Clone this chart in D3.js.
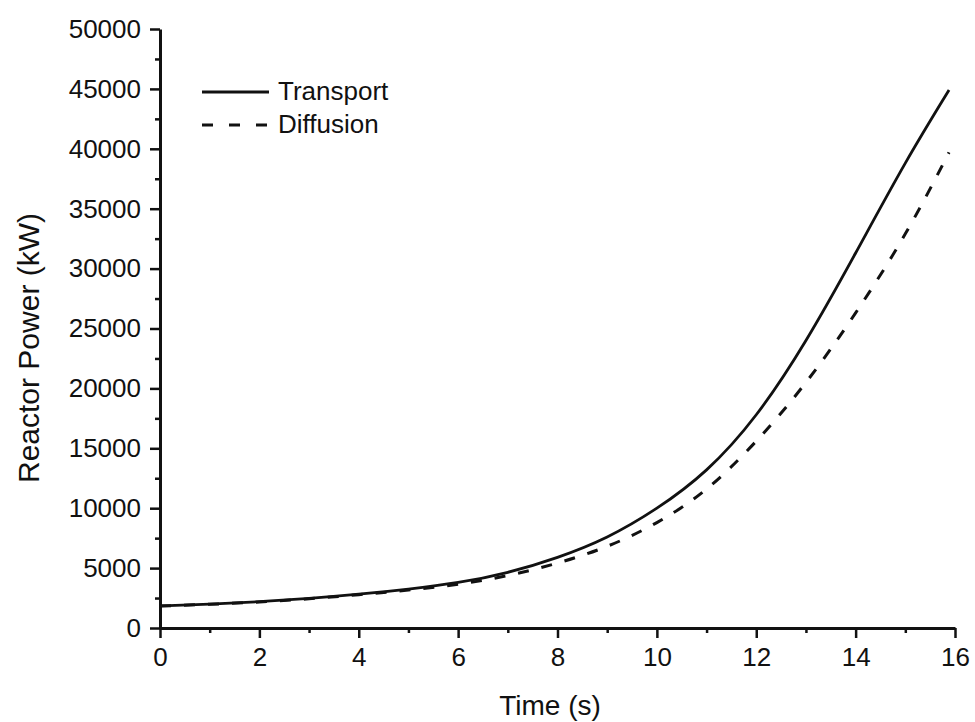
<!DOCTYPE html>
<html>
<head>
<meta charset="utf-8">
<script src="https://cdn.jsdelivr.net/npm/d3@7"></script>
<style>
  body { margin: 0; background: #fff; }
  text { font-family: "Liberation Sans", Arial, sans-serif; fill: #111; }
</style>
</head>
<body>
<div id="chart"></div>
<script>
// values
var times = [0, 1, 2, 3, 4, 5, 6, 7, 8, 9, 10, 11, 12, 13, 14, 15, 15.88];
var transport = [1850, 2000, 2200, 2470, 2820, 3250, 3800, 4650, 5900, 7600, 10000, 13200, 17800, 24000, 31300, 38800, 44900];
var diffusion = [1830, 1980, 2170, 2440, 2780, 3170, 3650, 4380, 5420, 6820, 8800, 11600, 15600, 20500, 26300, 32900, 39700];
var seriesNames = ["Transport", "Diffusion"];
var xTicks = [0, 2, 4, 6, 8, 10, 12, 14, 16];
var yTicks = [0, 5000, 10000, 15000, 20000, 25000, 30000, 35000, 40000, 45000, 50000];

var W = 975, H = 722;

var svg = d3.select("#chart").append("svg")
  .attr("width", W)
  .attr("height", H);

var x = d3.scaleLinear().domain([0, 16]).range([160, 955]);
var y = d3.scaleLinear().domain([0, 50000]).range([628, 29]);

// minor ticks first (short, outward)
var xMinor = d3.range(1, 16, 2);
var yMinor = d3.range(2500, 50000, 5000);

svg.append("g")
  .attr("transform", "translate(0,628)")
  .call(d3.axisBottom(x).tickValues(xMinor).tickSize(5).tickFormat(""))
  .call(function (g) { g.select(".domain").remove(); })
  .selectAll("line").attr("stroke", "#111").attr("stroke-width", 2.5);

svg.append("g")
  .attr("transform", "translate(160,0)")
  .call(d3.axisLeft(y).tickValues(yMinor).tickSize(5).tickFormat(""))
  .call(function (g) { g.select(".domain").remove(); })
  .selectAll("line").attr("stroke", "#111").attr("stroke-width", 2.5);

// major axes
var xAxis = svg.append("g")
  .attr("transform", "translate(0,628)")
  .call(d3.axisBottom(x).tickValues(xTicks).tickSize(10).tickSizeOuter(0).tickPadding(10));

var yAxis = svg.append("g")
  .attr("transform", "translate(160,0)")
  .call(d3.axisLeft(y).tickValues(yTicks).tickSize(10).tickSizeOuter(0).tickPadding(9).tickFormat(d3.format("d")));

[xAxis, yAxis].forEach(function (g) {
  g.select(".domain").attr("stroke", "#111").attr("stroke-width", 3);
  g.selectAll(".tick line").attr("stroke", "#111").attr("stroke-width", 2.5);
  g.selectAll(".tick text")
    .attr("fill", "#111")
    .style("font-size", "26px")
    .style("font-family", "'Liberation Sans', Arial, sans-serif");
});

// curves
var line = d3.line()
  .x(function (d) { return x(d[0]); })
  .y(function (d) { return y(d[1]); })
  .curve(d3.curveNatural);

var dataT = times.map(function (t, i) { return [t, transport[i]]; });
var dataD = times.map(function (t, i) { return [t, diffusion[i]]; });

svg.append("path")
  .datum(dataD)
  .attr("d", line)
  .attr("fill", "none")
  .attr("stroke", "#111")
  .attr("stroke-width", 3)
  .attr("stroke-dasharray", "11,13");

svg.append("path")
  .datum(dataT)
  .attr("d", line)
  .attr("fill", "none")
  .attr("stroke", "#111")
  .attr("stroke-width", 2.8);

// legend
var legend = svg.append("g");
legend.append("line")
  .attr("x1", 202).attr("x2", 269).attr("y1", 92).attr("y2", 92)
  .attr("stroke", "#111").attr("stroke-width", 2.8);
legend.append("line")
  .attr("x1", 202).attr("x2", 269).attr("y1", 125).attr("y2", 125)
  .attr("stroke", "#111").attr("stroke-width", 3)
  .attr("stroke-dasharray", "11,16");
legend.append("text")
  .attr("x", 278).attr("y", 100)
  .style("font-size", "26px")
  .text(seriesNames[0]);
legend.append("text")
  .attr("x", 278).attr("y", 133)
  .style("font-size", "26px")
  .text(seriesNames[1]);

// axis titles
svg.append("text")
  .attr("x", 550).attr("y", 715)
  .attr("text-anchor", "middle")
  .style("font-size", "28px")
  .text("Time (s)");

svg.append("text")
  .attr("transform", "translate(39,348) rotate(-90)")
  .attr("text-anchor", "middle")
  .style("font-size", "30px")
  .text("Reactor Power (kW)");
</script>
</body>
</html>
